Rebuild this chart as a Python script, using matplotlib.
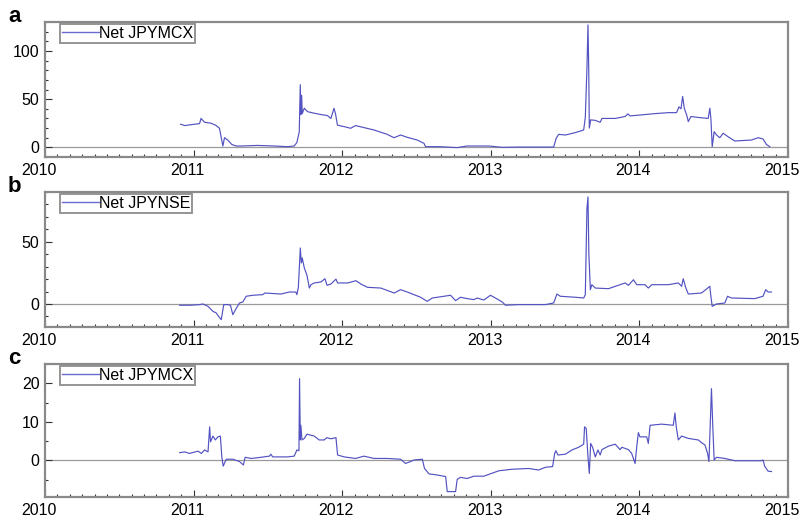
import matplotlib
matplotlib.use("Agg")
import matplotlib.pyplot as plt
import matplotlib.transforms as mtransforms
from matplotlib.ticker import MultipleLocator, FixedLocator

plt.rcParams['font.family'] = ['Liberation Sans', 'DejaVu Sans']

# Time axis in decimal years
years_a = [2010.913, 2010.94, 2011.007, 2011.04, 2011.05, 2011.074, 2011.118, 2011.152, 2011.174,
           2011.185, 2011.197, 2011.208, 2011.23, 2011.257, 2011.286, 2011.32, 2011.431, 2011.543,
           2011.633, 2011.677, 2011.695, 2011.711, 2011.718, 2011.722, 2011.727, 2011.731, 2011.745,
           2011.767, 2011.812, 2011.857, 2011.9, 2011.924, 2011.945, 2011.956, 2011.968, 2012.013,
           2012.057, 2012.09, 2012.146, 2012.214, 2012.303, 2012.348, 2012.393, 2012.438, 2012.505,
           2012.55, 2012.561, 2012.66, 2012.774, 2012.84, 2012.953, 2012.987, 2013.077, 2013.188,
           2013.423, 2013.44, 2013.457, 2013.502, 2013.569, 2013.625, 2013.636, 2013.647, 2013.654,
           2013.659, 2013.663, 2013.672, 2013.703, 2013.736, 2013.748, 2013.837, 2013.904, 2013.922,
           2013.937, 2014.016, 2014.105, 2014.195, 2014.25, 2014.266, 2014.28, 2014.291, 2014.302,
           2014.318, 2014.329, 2014.347, 2014.396, 2014.463, 2014.474, 2014.481, 2014.49, 2014.503,
           2014.519, 2014.541, 2014.564, 2014.597, 2014.642, 2014.754, 2014.799, 2014.832, 2014.855,
           2014.877]
net_jpymcx_a = [24, 22.6, 24, 24.6, 30, 26, 25, 22.6, 19.8,
                11, 1.4, 10, 7.6, 3, 1.4, 1.4, 2, 1.4,
                0.7, 1.4, 5, 16, 65, 34, 54, 35, 40.6,
                37, 35.4, 34, 33, 30, 40.6, 34, 23, 21.5,
                19.8, 22.6, 20.5, 18, 13.5, 10, 12.8, 10.4, 7.6,
                4.2, 0.7, 0.7, -0.3, 1.4, 1.4, 1.4, 0, 0.3,
                0.3, 9.4, 13.5, 12.8, 15.3, 18, 31, 82, 127,
                82, 20, 28.5, 28, 26, 30, 30, 32, 34.7,
                32.6, 33.7, 35, 36, 36, 42, 40, 52.8, 40.6,
                33.7, 26.7, 32, 31, 30, 40.6, 30, 0.7, 16.3,
                12.8, 10, 14.6, 11, 6.6, 7.6, 10, 8.7, 3,
                0.7]

years_b = [2010.906, 2010.917, 2010.98, 2011.04, 2011.063, 2011.097, 2011.13, 2011.152, 2011.168,
           2011.186, 2011.203, 2011.23, 2011.248, 2011.264, 2011.286, 2011.309, 2011.331, 2011.354,
           2011.398, 2011.465, 2011.48, 2011.588, 2011.644, 2011.688, 2011.695, 2011.705, 2011.718,
           2011.725, 2011.731, 2011.745, 2011.763, 2011.779, 2011.79, 2011.812, 2011.857, 2011.884,
           2011.898, 2011.924, 2011.958, 2011.969, 2012.037, 2012.093, 2012.126, 2012.17, 2012.26,
           2012.35, 2012.393, 2012.438, 2012.528, 2012.572, 2012.606, 2012.685, 2012.729, 2012.763,
           2012.796, 2012.841, 2012.886, 2012.908, 2012.953, 2012.998, 2013.031, 2013.077, 2013.099,
           2013.188, 2013.367, 2013.423, 2013.445, 2013.468, 2013.569, 2013.625, 2013.636, 2013.647,
           2013.654, 2013.66, 2013.67, 2013.68, 2013.703, 2013.792, 2013.87, 2013.904, 2013.926,
           2013.96, 2013.982, 2014.038, 2014.06, 2014.083, 2014.195, 2014.262, 2014.284, 2014.295,
           2014.311, 2014.329, 2014.418, 2014.474, 2014.481, 2014.49, 2014.519, 2014.575, 2014.593,
           2014.62, 2014.776, 2014.832, 2014.85, 2014.866, 2014.889]
net_jpynse = [-1, -1, -1, -0.5, 0, -1.9, -5.9, -7.2, -9.9,
              -12.6, -0.5, -0.5, -1, -8.6, -3.7, 0.8, 1.6, 6.2,
              7, 7.5, 8.8, 8, 9.6, 9.6, 7.5, 13.4, 45,
              33, 37, 29, 23, 12.8, 15.5, 16.9, 17.7, 20.3,
              15, 16, 20, 16.9, 16.9, 18.7, 16, 13.4, 12.8,
              8.8, 11.5, 9.6, 5.4, 2.1, 4.8, 6.2, 7, 2.7,
              5.4, 4.3, 3.5, 4.8, 3.2, 7, 4.8, 1.6, -1,
              -0.5, -0.5, 0.8, 8, 6.2, 5.4, 4.8, 7.5, 77,
              86, 39.6, 11.5, 15.5, 12.8, 12.3, 15.5, 16.9, 15,
              19.5, 15.5, 15.5, 12.8, 15.5, 15.5, 16.9, 14.2, 20.3,
              13.4, 8, 8.8, 14.2, 6.2, -1.9, 0, 0.8, 6.2,
              4.8, 4.3, 6.2, 11.5, 9.6, 9.6]

years_c = [2010.906, 2010.94, 2010.973, 2011.03, 2011.052, 2011.074, 2011.097, 2011.108, 2011.114,
           2011.13, 2011.146, 2011.164, 2011.18, 2011.19, 2011.199, 2011.22, 2011.264, 2011.309,
           2011.335, 2011.347, 2011.387, 2011.454, 2011.51, 2011.52, 2011.532, 2011.633, 2011.677,
           2011.695, 2011.709, 2011.713, 2011.718, 2011.722, 2011.729, 2011.745, 2011.763, 2011.812,
           2011.845, 2011.879, 2011.897, 2011.924, 2011.958, 2011.969, 2012.013, 2012.09, 2012.146,
           2012.214, 2012.303, 2012.393, 2012.426, 2012.46, 2012.483, 2012.539, 2012.554, 2012.584,
           2012.64, 2012.696, 2012.707, 2012.763, 2012.774, 2012.796, 2012.841, 2012.886, 2012.953,
           2013.054, 2013.143, 2013.255, 2013.322, 2013.367, 2013.416, 2013.43, 2013.438, 2013.452,
           2013.502, 2013.546, 2013.591, 2013.625, 2013.631, 2013.642, 2013.654, 2013.663, 2013.672,
           2013.685, 2013.703, 2013.721, 2013.736, 2013.748, 2013.792, 2013.837, 2013.87, 2013.882,
           2013.926, 2013.948, 2013.971, 2013.982, 2013.993, 2014.004, 2014.049, 2014.06, 2014.072,
           2014.15, 2014.228, 2014.239, 2014.248, 2014.262, 2014.284, 2014.329, 2014.396, 2014.418,
           2014.441, 2014.459, 2014.468, 2014.477, 2014.485, 2014.494, 2014.503, 2014.519, 2014.575,
           2014.642, 2014.754, 2014.821, 2014.832, 2014.843, 2014.866, 2014.889]
net_jpymcx_c = [2, 2.2, 1.8, 2.4, 1.8, 2.7, 2.2, 8.7, 4.8,
                6.3, 5.3, 6.1, 6.3, 0.9, -1.5, 0.3, 0.3, -0.3,
                -1.2, 0.8, 0.5, 0.8, 1.1, 1.6, 0.9, 0.9, 1.1,
                2.7, 2.5, 21.2, 5.3, 9.1, 5.3, 5.7, 6.8, 6.3,
                5.3, 5.3, 5.9, 5.6, 5.9, 1.4, 0.9, 0.5, 1.1,
                0.5, 0.5, 0.3, -0.8, -0.3, 0.1, 0.3, -2.1, -3.5,
                -3.8, -4.2, -8.1, -8.1, -4.9, -4.4, -4.7, -4.1, -4.1,
                -2.7, -2.3, -2.1, -2.5, -1.8, -1.6, 1.8, 2.5, 1.4,
                1.6, 2.7, 3.4, 4.2, 8.7, 8.3, 0.9, -3.4, 4.4,
                3.4, 0.9, 2.7, 1.4, 2.8, 3.7, 4.2, 2.8, 3.4,
                2.8, 1.8, -0.8, 3.5, 7.2, 6.1, 6.1, 4.4, 9.1,
                9.4, 9.1, 12.3, 8.7, 5.3, 6.3, 5.7, 5.3, 4.6,
                4, 1.8, -0.3, 9.6, 18.6, 8.7, 0.1, 0.8, 0.5,
                -0.1, -0.1, -0.1, 0.1, -1.5, -2.8, -2.9]

year_ticks = [2010, 2011, 2012, 2013, 2014, 2015]

panels = [
    dict(letter='a', x=years_a, y=net_jpymcx_a, label='Net JPYMCX',
         ylim=(-10, 130), major=[0, 50, 100], minor=10),
    dict(letter='b', x=years_b, y=net_jpynse, label='Net JPYNSE',
         ylim=(-18.5, 90), major=[0, 50], minor=10),
    dict(letter='c', x=years_c, y=net_jpymcx_c, label='Net JPYMCX',
         ylim=(-9.5, 25), major=[0, 10, 20], minor=5),
]

W, H = 803, 523
fig = plt.figure(figsize=(W / 100, H / 100), dpi=100)

# axes boxes in pixels: (top, bottom)
boxes = [(22, 157), (192, 327), (364, 497)]
left_px, right_px = 45, 788

line_color = '#5252c2'
frame_color = '#8a8a8a'

# year labels sit slightly left of their ticks
label_shift = mtransforms.ScaledTranslation(-6 / 100, 0, fig.dpi_scale_trans)

for p, (top, bot) in zip(panels, boxes):
    ax = fig.add_axes([left_px / W, 1 - bot / H, (right_px - left_px) / W, (bot - top) / H])
    ax.axhline(0, color='#9a9a9a', lw=0.9, zorder=1)
    ax.plot(p['x'], p['y'], color=line_color, lw=0.85, label=p['label'], zorder=2)
    ax.set_xlim(2010, 2015)
    ax.set_ylim(*p['ylim'])
    ax.xaxis.set_major_locator(FixedLocator(year_ticks))
    ax.xaxis.set_minor_locator(MultipleLocator(1 / 12))
    ax.set_xticklabels([str(t) for t in year_ticks])
    ax.yaxis.set_major_locator(FixedLocator(p['major']))
    ax.yaxis.set_minor_locator(MultipleLocator(p['minor']))
    ax.tick_params(axis='both', which='both', direction='in', colors='#333333',
                   labelcolor='black', labelsize=11.5, width=0.8)
    ax.tick_params(axis='both', which='major', length=5)
    ax.tick_params(axis='both', which='minor', length=2.5)
    ax.tick_params(axis='x', pad=4)
    ax.tick_params(axis='y', pad=4)
    for lbl in ax.get_xticklabels():
        lbl.set_transform(lbl.get_transform() + label_shift)
    for s in ax.spines.values():
        s.set_color(frame_color)
        s.set_linewidth(1.6)
    leg = ax.legend(loc='upper left', bbox_to_anchor=(0.02, 0.985), frameon=True,
                    fancybox=False, fontsize=11.5, handlelength=2.3, handletextpad=0.0,
                    borderpad=0.12, borderaxespad=0.0, labelspacing=0.2)
    leg.get_frame().set_edgecolor('#7a7a7a')
    leg.get_frame().set_linewidth(1.4)
    for h in leg.get_lines():
        h.set_color('#6a6ad0')
        h.set_linewidth(1.0)
    fig.text(8 / W, 1 - (top - 5) / H, p['letter'], fontsize=16, fontweight='bold',
             va='center', ha='left')

fig.savefig('out.png', dpi=100)
